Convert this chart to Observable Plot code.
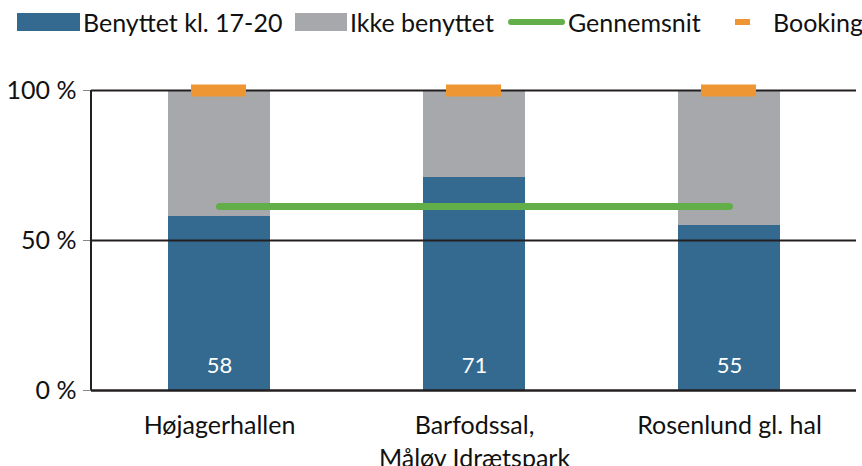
<!DOCTYPE html>
<html>
<head>
<meta charset="utf-8">
<script src="https://cdn.jsdelivr.net/npm/d3@7"></script>
<script src="https://cdn.jsdelivr.net/npm/@observablehq/plot@0.6"></script>
<style>
  html, body { margin: 0; padding: 0; background: #fff; width: 862px; height: 466px; overflow: hidden; }
  body { font-family: Lato, "Open Sans", sans-serif; }
  #legend { height: 50px; position: relative; font-size: 25px; color: #111; }
  #legend .item { position: absolute; top: 8px; height: 28px; line-height: 28px; white-space: nowrap; }
  #legend .sw { position: absolute; }
</style>
</head>
<body>
<div id="legend"></div>
<div id="chart"></div>
<script>
const categories = ["Højagerhallen", "Barfodssal,\nMåløv Idrætspark", "Rosenlund gl. hal"];
const used = [58, 71, 55];
const notUsed = [42, 29, 45];
const booking = [100, 100, 100];
const seriesNames = ["Benyttet kl. 17-20", "Ikke benyttet"];
const avgName = "Gennemsnit";
const bookingName = "Booking";
const yTicks = [0, 50, 100];
const yTickLabels = ["0 %", "50 %", "100 %"];

const colors = { blue: "#346a8f", grey: "#a7a8ab", green: "#62ae48", orange: "#ee9633" };

const average = d3.mean(used);
const stacked = [];
categories.forEach((c, i) => {
  stacked.push({ cat: c, series: seriesNames[0], v: used[i] });
  stacked.push({ cat: c, series: seriesNames[1], v: notUsed[i] });
});
const avgData = categories.map(c => ({ cat: c, v: average }));
const bookData = categories.map((c, i) => ({ cat: c, v: booking[i] }));
const labelData = categories.map((c, i) => ({ cat: c, v: used[i] }));

// Legend (HTML)
const legend = document.getElementById("legend");
const legendItems = [
  { sx: 17, tx: 83, text: seriesNames[0], sw: `left:0;top:5px;width:63px;height:18px;background:${colors.blue}` },
  { sx: 295, tx: 350, text: seriesNames[1], sw: `left:0;top:5px;width:52px;height:18px;background:${colors.grey}` },
  { sx: 508, tx: 568, text: avgName, sw: `left:0;top:11px;width:57px;height:6px;border-radius:3px;background:${colors.green}` },
  { sx: 735, tx: 773, text: bookingName, sw: `left:0;top:11px;width:15px;height:6px;background:${colors.orange}` }
];
legendItems.forEach(it => {
  const s = document.createElement("div");
  s.className = "item";
  s.style.left = it.sx + "px";
  const sw = document.createElement("span");
  sw.className = "sw";
  sw.style.cssText += it.sw;
  s.appendChild(sw);
  legend.appendChild(s);
  const t = document.createElement("div");
  t.className = "item";
  t.style.left = it.tx + "px";
  t.textContent = it.text;
  legend.appendChild(t);
});

const chart = Plot.plot({
  width: 862,
  height: 416,
  marginTop: 40,
  marginBottom: 76,
  marginLeft: 91,
  marginRight: 6,
  style: { fontFamily: "Lato, 'Open Sans', sans-serif", fontSize: "26px", color: "#111", background: "#fff", overflow: "visible" },
  x: { domain: categories, paddingInner: 0.6, paddingOuter: 0.3, label: null },
  y: { domain: [0, 100], label: null },
  color: { domain: seriesNames, range: [colors.blue, colors.grey] },
  marks: [
    Plot.barY(stacked, Plot.stackY({ x: "cat", y: "v", fill: "series", order: seriesNames })),
    Plot.ruleY([50, 100], { stroke: "#231f20", strokeWidth: 2 }),
    Plot.ruleY([0], { stroke: "#231f20", strokeWidth: 2.5 }),
    Plot.axisY({ ticks: yTicks, tickFormat: (d) => yTickLabels[yTicks.indexOf(d)], tickSize: 8, tickPadding: 7, stroke: "#888", fontSize: 25, fill: "#111" }),
    Plot.axisX({ tickSize: 0, tickPadding: 20, fontSize: 25, lineHeight: 1.32, fill: "#111" }),
    Plot.lineY(avgData, { x: "cat", y: "v", stroke: colors.green, strokeWidth: 7, strokeLinecap: "round" }),
    Plot.tickY(bookData, { x: "cat", y: "v", stroke: colors.orange, strokeWidth: 12, insetLeft: 23, insetRight: 24 }),
    Plot.text(labelData, { x: "cat", y: 0, text: d => String(d.v), fill: "white", fontSize: 22, dy: -25 })
  ]
});
document.getElementById("chart").appendChild(chart);
const svg = d3.select(chart);
const yScale = chart.scale("y");
svg.append("line")
  .attr("x1", 91).attr("x2", 91)
  .attr("y1", yScale.apply(100)).attr("y2", yScale.apply(0))
  .attr("stroke", "#231f20").attr("stroke-width", 2);
</script>
</body>
</html>
